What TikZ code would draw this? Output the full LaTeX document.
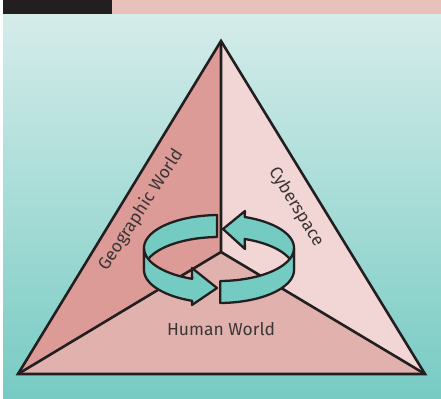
\documentclass[tikz,border=0pt]{standalone}
\usepackage{fontspec}
\setmainfont{Fira Sans}
\usetikzlibrary{calc}
\definecolor{bgtop}{HTML}{D5ECEA}
\definecolor{bgbottom}{HTML}{77CBC3}
\definecolor{headblack}{HTML}{231F20}
\definecolor{headpink}{HTML}{E8C1BB}
\definecolor{geoface}{HTML}{DC9B97}
\definecolor{cyberface}{HTML}{F2D6D6}
\definecolor{humanface}{HTML}{E1B2AD}
\definecolor{ringteal}{HTML}{74CBC2}
\definecolor{inkgray}{HTML}{3B3536}

\begin{document}
\begin{tikzpicture}[x=1bp, y=-1bp]
        \def\cx{219} \def\cy{248} \def\rx{75} \def\ry{33} \def\bh{22}
        \tikzset{
            edge/.style={line width=2.6bp, draw=headblack},
            ring/.style={fill=ringteal, draw=headblack, line width=2.3bp, line join=round},
            lbl/.style={text=inkgray, font=\fontsize{17.5}{20}\selectfont, inner sep=0pt}
        }

        \useasboundingbox (0,0) rectangle (441,398);
        \shade[top color=bgtop, bottom color=bgbottom] (3,14) rectangle (441,398);
        \fill[headblack] (3,0) rectangle (112,14);
        \fill[headpink] (112,0) rectangle (441,14);

        \coordinate (apex) at (221,41);
        \coordinate (left) at (18,374);
        \coordinate (right) at (425,374);
        \coordinate (mid) at (221,252);

        \fill[geoface] (apex) -- (mid) -- (left) -- cycle;
        \fill[cyberface] (apex) -- (mid) -- (right) -- cycle;
        \fill[humanface] (mid) -- (left) -- (right) -- cycle;
        \draw[edge] (apex) -- (left) -- (right) -- cycle;
        \draw[edge] (apex) -- (mid) -- (left);
        \draw[edge] (mid) -- (right);

        \node[lbl, rotate=57] (geo) at (141,210) {Geographic World};
        \node[lbl, rotate=-58.5] (cyber) at (296,207) {Cyberspace};
        \node[lbl] (human) at (221,329) {Human World};

        % back halves of the ring
        \filldraw[ring] plot[domain=268.5:180, samples=30, variable=\t] ({\cx+\rx*cos(\t)}, {\cy+\ry*sin(\t)})
            -- plot[domain=180:268.5, samples=30, variable=\t] ({\cx+\rx*cos(\t)}, {\cy+\bh+\ry*sin(\t)}) -- cycle;
        \filldraw[ring] plot[domain=0:-70, samples=30, variable=\t] ({\cx+\rx*cos(\t)}, {\cy+\ry*sin(\t)})
            -- (245,211) -- (223,229) -- (245,249)
            -- plot[domain=-70:0, samples=30, variable=\t] ({\cx+\rx*cos(\t)}, {\cy+\bh+\ry*sin(\t)}) -- cycle;

        % front halves
        \filldraw[ring] plot[domain=180:111, samples=30, variable=\t] ({\cx+\rx*cos(\t)}, {\cy+\ry*sin(\t)})
            -- (192,268) -- (217,288) -- (192,305)
            -- plot[domain=111:180, samples=30, variable=\t] ({\cx+\rx*cos(\t)}, {\cy+\bh+\ry*sin(\t)}) -- cycle;
        \filldraw[ring] plot[domain=89:0, samples=30, variable=\t] ({\cx+\rx*cos(\t)}, {\cy+\ry*sin(\t)})
            -- plot[domain=0:89, samples=30, variable=\t] ({\cx+\rx*cos(\t)}, {\cy+\bh+\ry*sin(\t)}) -- cycle;
    \end{tikzpicture}
\end{document}
